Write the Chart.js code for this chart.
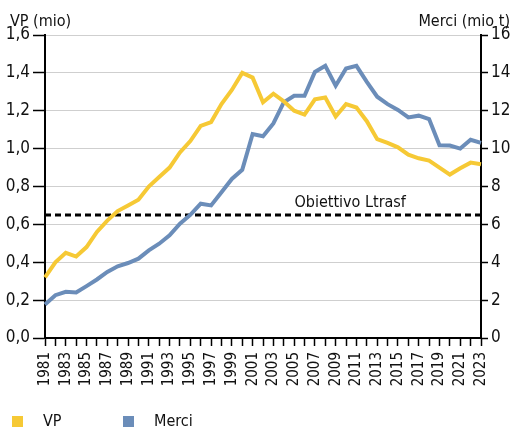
<!DOCTYPE html>
<html>
<head>
<meta charset="utf-8">
<script src="https://cdn.jsdelivr.net/npm/chart.js@4.4.1/dist/chart.umd.min.js"></script>
<style>
  body { margin: 0; background: #fff; }
  #wrap { position: relative; width: 511px; height: 429px; }
  #legenda { position: absolute; left: 12px; top: 411px; font: 16px "Liberation Sans Narrow", "DejaVu Sans Condensed", sans-serif; color: #111; white-space: nowrap; }
  #legenda span.box { display: inline-block; width: 11px; height: 11px; margin-right: 20px; vertical-align: -1px; }
  #legenda span.lbl { display: inline-block; }
</style>
</head>
<body>
<div id="wrap">
  <canvas id="grafico" width="511" height="429"></canvas>
  <div id="legenda"></div>
</div>
<script>
// dati
const anni = [];
for (let a = 1981; a <= 2023; a++) anni.push(String(a));

// viaggiatori (mio)
const vp = [0.32, 0.40, 0.45, 0.43, 0.48, 0.56, 0.62, 0.67, 0.70, 0.73,
            0.80, 0.85, 0.90, 0.98, 1.04, 1.12, 1.14, 1.235, 1.31, 1.40,
            1.375, 1.245, 1.29, 1.25, 1.20, 1.18, 1.26, 1.27, 1.17, 1.235,
            1.217, 1.145, 1.05, 1.03, 1.007, 0.968, 0.949, 0.937, 0.90, 0.863,
            0.896, 0.926, 0.917];

// merci (mio t)
const merci = [1.77, 2.26, 2.44, 2.40, 2.74, 3.09, 3.49, 3.79, 3.96, 4.19,
               4.63, 4.98, 5.42, 6.04, 6.50, 7.09, 7.00, 7.70, 8.40, 8.88,
               10.77, 10.65, 11.33, 12.44, 12.79, 12.79, 14.05, 14.37, 13.32, 14.23,
               14.37, 13.53, 12.74, 12.35, 12.04, 11.65, 11.74, 11.56, 10.18, 10.16,
               10.0, 10.47, 10.3];

const obiettivo = 0.65;
const obiettivoTesto = "Obiettivo Ltrasf";
const obiettivoPos = 29.4; // indice anno dove centrare la scritta

const nomi = ["VP", "Merci"];
const colori = ["#F6C935", "#6B8DB9"];

const FONT = '"Liberation Sans Narrow", "DejaVu Sans Condensed", sans-serif';

// titoli degli assi e scritta obiettivo
const testi = {
  id: "testi",
  afterDraw(chart) {
    const ctx = chart.ctx;
    ctx.save();
    ctx.fillStyle = "#111";
    ctx.font = "16px " + FONT;
    ctx.textBaseline = "alphabetic";
    ctx.textAlign = "left";
    ctx.fillText("VP (mio)", 10, 26);
    ctx.textAlign = "right";
    ctx.fillText("Merci (mio t)", 510, 26);
    const x = chart.scales.x.getPixelForValue(obiettivoPos);
    const y = chart.scales.y.getPixelForValue(obiettivo);
    ctx.textAlign = "center";
    ctx.fillText(obiettivoTesto, x, y - 8);
    ctx.restore();
  }
};

const grafica = document.getElementById("grafico").getContext("2d");
new Chart(grafica, {
  type: "line",
  data: {
    labels: anni,
    datasets: [
      { label: nomi[0], data: vp, borderColor: colori[0], backgroundColor: colori[0], borderWidth: 4, pointRadius: 0, yAxisID: "y", tension: 0 },
      { label: nomi[1], data: merci, borderColor: colori[1], backgroundColor: colori[1], borderWidth: 4, pointRadius: 0, yAxisID: "y2", tension: 0 },
      { label: "obiettivo", data: anni.map(() => obiettivo), borderColor: "#000", borderWidth: 3, borderDash: [6, 4], pointRadius: 0, yAxisID: "y" }
    ]
  },
  options: {
    responsive: false,
    animation: false,
    layout: { padding: { top: 35, bottom: 34, left: 0, right: 0 } },
    plugins: { legend: { display: false }, tooltip: { enabled: false } },
    scales: {
      x: {
        offset: false,
        grid: { drawOnChartArea: false, tickLength: 8, tickColor: "#000", tickWidth: 1.5 },
        border: { color: "#000", width: 2 },
        ticks: {
          autoSkip: false, maxRotation: 90, minRotation: 90, padding: 6,
          color: "#111", font: { family: FONT, size: 15 },
          callback: function (v, i) { return i % 2 === 0 ? anni[i] : ""; }
        },
        afterFit: function (s) { s.height = 57; }
      },
      y: {
        position: "left", min: 0, max: 1.6,
        grid: { color: "#cfcfcf", lineWidth: 1, tickLength: 12, tickColor: "#000", tickWidth: 1.5 },
        border: { color: "#000", width: 2 },
        ticks: {
          stepSize: 0.2, padding: 3, color: "#111", font: { family: FONT, size: 17 },
          callback: function (v) { return v.toFixed(1).replace(".", ","); }
        },
        afterFit: function (s) { s.width = 45; }
      },
      y2: {
        position: "right", min: 0, max: 16,
        grid: { drawOnChartArea: false, tickLength: 7, tickColor: "#000", tickWidth: 1.5 },
        border: { color: "#000", width: 2 },
        ticks: { stepSize: 2, padding: 3, color: "#111", font: { family: FONT, size: 17 } },
        afterFit: function (s) { s.width = 30; }
      }
    }
  },
  plugins: [testi]
});

// legenda in fondo
const legenda = document.getElementById("legenda");
legenda.innerHTML = nomi.map((n, i) =>
  `<span class="box" style="background:${colori[i]}"></span><span class="lbl" style="width:${i === 0 ? 80 : 60}px">${n}</span>`
).join("");
</script>
</body>
</html>
